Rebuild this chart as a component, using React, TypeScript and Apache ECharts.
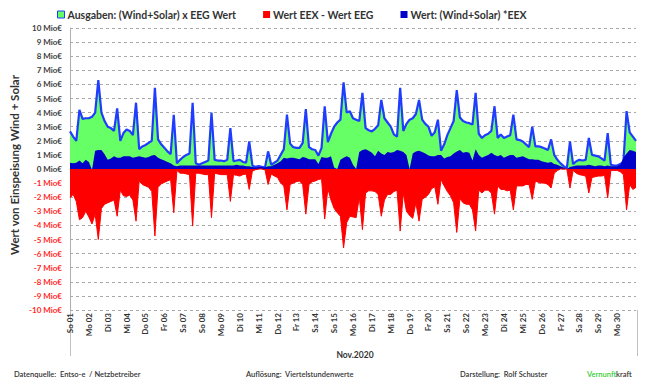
import React, { useEffect, useRef } from "react";
import * as echarts from "echarts";

// Day labels (November 2020)
const dayLabels = [
  "So 01", "Mo 02", "Di 03", "Mi 04", "Do 05", "Fr 06", "Sa 07", "So 08", "Mo 09", "Di 10",
  "Mi 11", "Do 12", "Fr 13", "Sa 14", "So 15", "Mo 16", "Di 17", "Mi 18", "Do 19", "Fr 20",
  "Sa 21", "So 22", "Mo 23", "Di 24", "Mi 25", "Do 26", "Fr 27", "Sa 28", "So 29", "Mo 30",
];

const POINTS_PER_DAY = 6; // samples at 0,4,8,12,16,20 h (+ final point)

const yTicks = [-10, -9, -8, -7, -6, -5, -4, -3, -2, -1, 0, 1, 2, 3, 4, 5, 6, 7, 8, 9, 10];

// Ausgaben: (Wind+Solar) x EEG Wert  [Mio €]
const eegValue = [
  2.67, 2.3, 2.0, 4.2, 3.55, 3.6,
  3.6, 3.7, 4.0, 6.3, 4.0, 3.4,
  3.0, 2.9, 2.7, 4.3, 2.0, 2.55,
  2.8, 2.7, 2.4, 4.7, 1.4, 1.6,
  1.7, 1.85, 2.0, 5.75, 2.1, 1.75,
  1.5, 1.25, 1.05, 3.85, 0.4, 0.65,
  0.85, 1.0, 1.1, 4.7, 0.4, 0.3,
  0.4, 0.5, 0.6, 4.0, 0.65, 0.6,
  0.6, 0.55, 0.65, 2.9, 0.55, 0.6,
  0.65, 0.5, 0.45, 1.95, 0.25, 0.15,
  0.2, 0.15, 0.1, 1.25, 0.3, 0.45,
  0.6, 1.0, 1.4, 3.85, 1.8, 1.55,
  1.5, 1.5, 1.85, 4.25, 1.55, 1.4,
  1.35, 0.95, 1.5, 4.45, 1.9, 2.5,
  3.0, 3.3, 3.5, 6.15, 4.0, 4.1,
  3.6, 3.5, 3.4, 5.4, 2.9, 2.75,
  2.67, 2.85, 3.1, 4.9, 3.6, 3.3,
  3.0, 2.45, 2.3, 5.75, 2.7, 3.2,
  3.5, 3.6, 3.9, 4.9, 3.5, 3.2,
  3.0, 2.35, 2.6, 3.5, 1.3, 1.75,
  2.4, 2.9, 3.4, 5.6, 3.65, 3.4,
  3.3, 3.25, 3.15, 5.4, 2.5, 2.2,
  2.4, 2.5, 2.7, 4.45, 2.2, 2.45,
  2.2, 2.3, 2.4, 3.85, 2.1, 2.05,
  1.95, 1.75, 1.55, 3.0, 1.6, 1.6,
  1.55, 1.45, 1.35, 2.1, 1.0, 0.65,
  0.4, 0.2, 0.05, 1.95, 0.35, 0.55,
  0.65, 0.6, 0.65, 2.2, 1.0, 0.95,
  0.9, 0.75, 0.6, 2.55, 0.3, 0.25,
  0.25, 0.35, 0.5, 4.1, 2.6, 2.3,
  2.0,
];

// Wert: (Wind+Solar) * EEX  [Mio €]
const eexValue = [
  0.45, 0.4, 0.45, 0.6, 0.4, 0.65,
  0.5, -0.05, 1.3, 1.35, 1.35, 1.05,
  0.65, 0.75, 0.9, 0.8, 0.8, 0.9,
  0.9, 0.9, 0.8, 0.85, 0.9, 0.85,
  0.8, 0.85, 0.95, 1.0, 0.8, 0.7,
  0.6, 0.5, 0.4, 0.25, 0.2, 0.25,
  0.25, 0.25, 0.25, 0.25, 0.25, 0.25,
  0.25, 0.25, 0.25, 0.25, 0.25, 0.25,
  0.25, 0.25, 0.25, 0.25, 0.25, 0.3,
  0.25, 0.25, 0.2, 0.2, 0.15, 0.1,
  0.15, 0.15, 0.1, 0.2, 0.2, 0.3,
  0.4, 0.55, 0.8, 0.75, 0.8, 0.8,
  0.75, 0.7, 0.85, 0.8, 0.7, 0.7,
  0.7, 0.35, 0.85, 0.8, 0.8, 0.9,
  0.1, 0.0, 0.65, 0.8, 0.9, 0.8,
  0.3, 0.0, 1.2, 1.35, 1.4, 1.3,
  1.15, 0.9, 1.3, 1.1, 1.0, 1.2,
  1.15, 1.2, 1.35, 1.3, 1.2, 1.0,
  0.0, 1.1, 1.25, 1.3, 1.2, 1.1,
  0.95, 0.9, 0.9, 1.0, 1.0, 0.75,
  0.85, 0.9, 1.1, 1.25, 1.35, 1.15,
  1.2, 1.15, 0.6, 1.4, 1.0, 0.8,
  0.9, 1.0, 1.15, 1.0, 0.9, 1.0,
  0.8, 0.9, 1.0, 1.0, 0.8, 0.85,
  0.9, 0.8, 0.7, 0.7, 0.65, 0.65,
  0.55, 0.5, 0.45, 0.5, 0.35, 0.3,
  0.2, 0.1, 0.0, 0.15, 0.2, 0.25,
  0.25, 0.25, 0.25, 0.3, 0.25, 0.2,
  0.25, 0.25, 0.2, 0.25, 0.2, 0.2,
  0.2, 0.3, 0.8, 1.1, 1.35, 1.3,
  1.2,
];

// Wert EEX - Wert EEG  [Mio €]
const difference = [
  -2.05, -1.8, -2.3, -3.6, -3.45, -3.0,
  -3.4, -3.9, -3.2, -5.0, -2.8, -2.5,
  -2.4, -2.3, -2.2, -3.35, -1.5, -1.9,
  -1.95, -1.85, -2.2, -3.7, -0.85, -1.1,
  -1.2, -1.3, -1.6, -4.75, -1.3, -1.05,
  -0.95, -0.85, -0.75, -3.1, -0.1, -0.3,
  -0.3, -0.35, -0.4, -4.05, -0.3, -0.3,
  -0.35, -0.4, -0.4, -3.45, -0.3, -0.35,
  -0.4, -0.4, -0.4, -2.3, -0.4, -0.45,
  -0.5, -0.4, -0.35, -1.45, -0.15, -0.05,
  0.0, 0.0, -0.05, -1.1, -0.35, -0.5,
  -0.6, -1.0, -1.2, -2.9, -1.1, -1.0,
  -0.9, -0.85, -1.1, -3.2, -1.1, -0.9,
  -0.85, -0.75, -0.7, -3.55, -1.4, -2.2,
  -2.8, -3.1, -3.35, -5.6, -3.8, -3.35,
  -3.4, -3.45, -2.0, -4.3, -1.7, -1.55,
  -1.55, -1.6, -1.8, -3.35, -2.2, -1.8,
  -1.8, -1.6, -1.5, -4.4, -1.7, -3.0,
  -3.3, -3.5, -2.4, -3.7, -2.15, -2.0,
  -1.8, -1.4, -1.25, -2.5, -0.75, -1.2,
  -1.6, -1.9, -2.4, -4.5, -2.1, -2.4,
  -2.5, -2.5, -2.9, -4.4, -1.5, -1.7,
  -1.5, -1.5, -1.7, -3.2, -1.2, -1.45,
  -1.45, -1.55, -1.5, -2.9, -1.2, -1.2,
  -1.2, -1.1, -1.1, -2.15, -0.85, -0.95,
  -1.0, -1.0, -1.1, -1.35, -0.3, -0.1,
  0.0, 0.0, 0.0, -1.35, -0.1, -0.3,
  -0.4, -0.45, -0.5, -1.7, -0.6, -0.55,
  -0.5, -0.5, -0.45, -2.05, -0.1, -0.1,
  -0.1, -0.2, -0.4, -2.9, -1.1, -1.45,
  -1.3,
];

const NAME_EEG = "Ausgaben: (Wind+Solar) x EEG Wert";
const NAME_DIFF = "Wert EEX - Wert EEG";
const NAME_EEX = "Wert: (Wind+Solar) *EEX";

const GREEN = "#66ff66";
const BLUE_LINE = "#1f3cff";
const BLUE = "#0000c8";
const RED = "#ff0000";
const FONT = "Lato";

const toXY = (arr: number[]) => arr.map((v, i) => [i / POINTS_PER_DAY, v]);

export default function App() {
  const ref = useRef<HTMLDivElement>(null);

  useEffect(() => {
    document.body.style.margin = "0";
    if (!ref.current) return;
    const chart = echarts.init(ref.current, undefined, { renderer: "svg" });
    const option: any = {
      animation: false,
      backgroundColor: "#ffffff",
      grid: { left: 70, right: 13, top: 28, bottom: 74 },
      legend: {
        top: 4,
        left: 52,
        itemWidth: 7,
        itemHeight: 7,
        itemGap: 27,
        icon: "rect",
        textStyle: { fontFamily: FONT, fontWeight: "bold", fontSize: 10.5, color: "#333", padding: [0, 0, 0, -2] },
        data: [
          { name: NAME_EEG, itemStyle: { color: GREEN, borderColor: BLUE_LINE, borderWidth: 1 } },
          { name: NAME_DIFF, itemStyle: { color: RED } },
          { name: NAME_EEX, itemStyle: { color: BLUE } },
        ],
      },
      xAxis: {
        type: "value",
        min: 0,
        max: dayLabels.length,
        interval: 1,
        axisLine: { show: false },
        axisTick: { show: false },
        splitLine: { show: false },
        axisLabel: {
          rotate: 90,
          margin: 3,
          fontFamily: FONT,
          fontWeight: "bold",
          fontSize: 8,
          color: "#333",
          formatter: (v: number) => dayLabels[Math.round(v)] ?? "",
          showMaxLabel: false,
        },
      },
      yAxis: {
        type: "value",
        min: yTicks[0],
        max: yTicks[yTicks.length - 1],
        interval: 1,
        axisLine: { show: true, lineStyle: { color: "#b0b0b0", width: 1 } },
        axisTick: { show: false },
        splitLine: { show: true, lineStyle: { color: "#a8a8a8", type: [3, 3], width: 1 } },
        axisLabel: {
          margin: 8,
          fontFamily: FONT,
          fontWeight: "bold",
          fontSize: 8,
          color: (v: any) => (Number(v) < 0 ? "#ff2a2a" : "#404040"),
          formatter: (v: number) => `${v} Mio€`,
        },
      },
      series: [
        {
          name: NAME_EEG,
          type: "line",
          data: toXY(eegValue),
          symbol: "none",
          lineStyle: { color: BLUE_LINE, width: 2.2 },
          itemStyle: { color: GREEN },
          areaStyle: { color: GREEN, opacity: 1 },
          z: 2,
        },
        {
          name: NAME_EEX,
          type: "line",
          data: toXY(eexValue),
          symbol: "none",
          lineStyle: { width: 0 },
          itemStyle: { color: BLUE },
          areaStyle: { color: BLUE, opacity: 1 },
          z: 3,
        },
        {
          name: NAME_DIFF,
          type: "line",
          data: toXY(difference),
          symbol: "none",
          lineStyle: { color: RED, width: 1 },
          itemStyle: { color: RED },
          areaStyle: { color: RED, opacity: 1 },
          z: 4,
        },
      ],
      graphic: [
        {
          type: "text",
          x: 14,
          y: 165,
          rotation: Math.PI / 2,
          style: {
            text: "Wert von Einspeisung Wind + Solar",
            font: `bold 11.5px ${FONT}`,
            fill: "#333",
            textAlign: "center",
            textVerticalAlign: "middle",
          },
        },
        { type: "line", shape: { x1: 70.5, y1: 310, x2: 70.5, y2: 356 }, style: { stroke: "#c0c0c0", lineWidth: 1 } },
        { type: "line", shape: { x1: 637.5, y1: 310, x2: 637.5, y2: 356 }, style: { stroke: "#c0c0c0", lineWidth: 1 } },
        {
          type: "text",
          x: 355,
          y: 355,
          style: { text: "Nov.2020", font: `bold 8.5px ${FONT}`, fill: "#333", textAlign: "center", textVerticalAlign: "middle" },
        },
        {
          type: "text",
          x: 14,
          y: 374,
          style: { text: "Datenquelle:  Entso-e  / Netzbetreiber", font: `600 7.5px ${FONT}`, fill: "#333", textVerticalAlign: "middle" },
        },
        {
          type: "text",
          x: 246,
          y: 374,
          style: { text: "Auflösung:  Viertelstundenwerte", font: `600 7.5px ${FONT}`, fill: "#333", textVerticalAlign: "middle" },
        },
        {
          type: "text",
          x: 460,
          y: 374,
          style: { text: "Darstellung:  Rolf Schuster", font: `600 7.5px ${FONT}`, fill: "#333", textVerticalAlign: "middle" },
        },
        {
          type: "text",
          x: 587,
          y: 374,
          style: {
            text: "{g|Vernunft}{k|kraft}",
            textVerticalAlign: "middle",
            rich: {
              g: { font: `600 7.5px ${FONT}`, fill: "#33cc33" },
              k: { font: `600 7.5px ${FONT}`, fill: "#333" },
            },
          },
        },
      ],
    };
    chart.setOption(option);
    return () => chart.dispose();
  }, []);

  return <div ref={ref} style={{ width: 649, height: 384 }} />;
}
